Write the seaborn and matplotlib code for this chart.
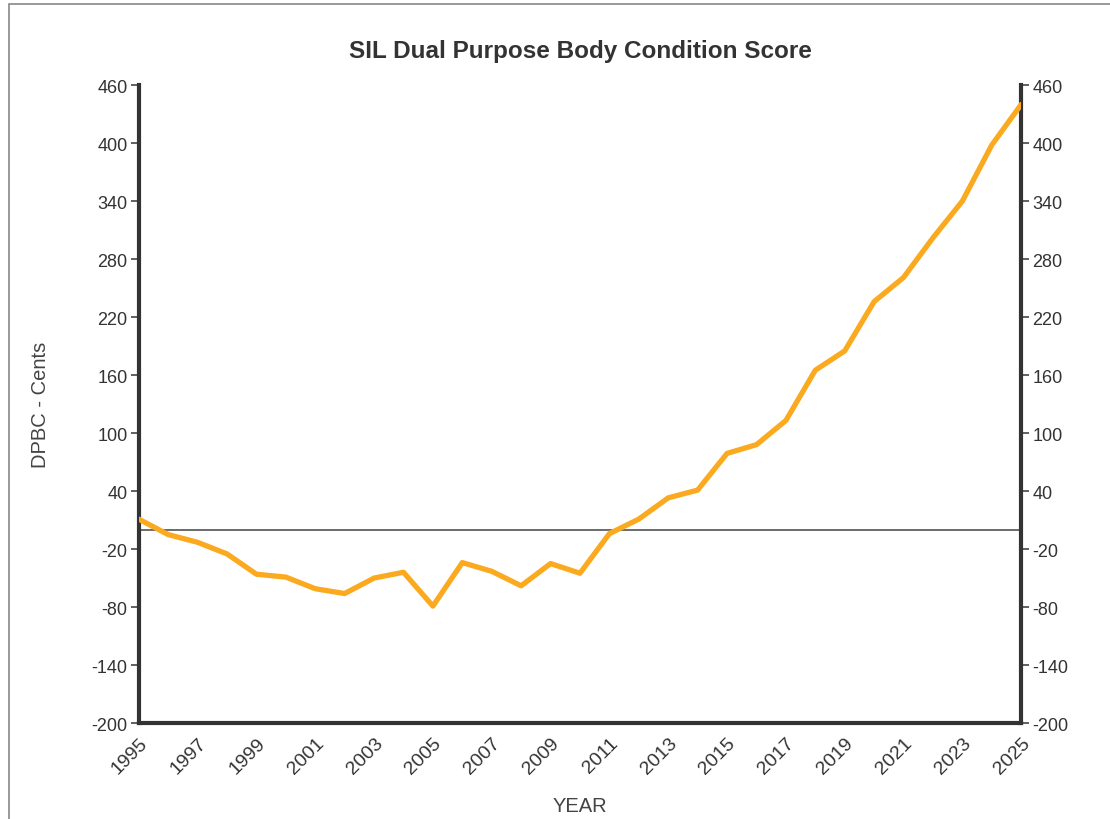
import numpy as np
import pandas as pd
import seaborn as sns
import matplotlib
matplotlib.use('Agg')
from matplotlib import pyplot as plt
from matplotlib.patches import Rectangle

# values
years = list(range(1995, 2026))
dpbc = [11, -5, -13, -25, -46, -49, -61, -66, -50, -44,
        -79, -34, -43, -58, -35, -45, -4, 11, 33, 41,
        79, 88, 113, 165, 185, 236, 261, 302, 340, 398, 440]
y_ticks = list(range(-200, 461, 60))

df = pd.DataFrame({"YEAR": years, "DPBC": dpbc})

sns.set_style("white")
plt.rcParams['font.family'] = ['Liberation Sans', 'DejaVu Sans']

fig = plt.figure(figsize=(11.1, 8.2), dpi=100)
ax = fig.add_axes([0.125, 0.117, 0.795, 0.778])

ax.axhline(0, color="#444444", lw=1.1, zorder=1)
sns.lineplot(data=df, x="YEAR", y="DPBC", color="#FBAA1F", lw=3.8, ax=ax, zorder=3)

ax.set_xlim(1995, 2025)
ax.set_ylim(-200, 460)
ax.set_yticks(y_ticks)
ax.set_yticklabels([str(v) for v in y_ticks])
ax.set_xticks(years)
ax.set_xticklabels([str(y) if y % 2 == 1 else "" for y in years],
                   rotation=45, ha="right", rotation_mode="anchor")

ax.tick_params(axis="both", direction="out", length=6, width=1.3, color="#555555",
               labelsize=13, labelcolor="#333333", pad=2)
ax.tick_params(axis="x", labelsize=14)
ax.tick_params(axis="y", left=True, right=True, labelleft=True, labelright=True)

for side in ["left", "right", "bottom"]:
    ax.spines[side].set_visible(True)
    ax.spines[side].set_color("#333333")
    ax.spines[side].set_linewidth(3)
ax.spines["top"].set_visible(False)

ax.set_title("SIL Dual Purpose Body Condition Score", fontsize=17.5,
             fontweight="bold", color="#333333", pad=20)
ax.set_xlabel("YEAR", fontsize=14.5, color="#444444", labelpad=14)
ax.set_ylabel("DPBC - Cents", fontsize=14.5, color="#444444", labelpad=30)

# outer frame of the original picture
fig.patches.append(Rectangle((0.008, -0.02), 1.1, 1.014, transform=fig.transFigure,
                             fill=False, edgecolor="#888888", lw=1.2))

fig.savefig("out.png", dpi=100)
